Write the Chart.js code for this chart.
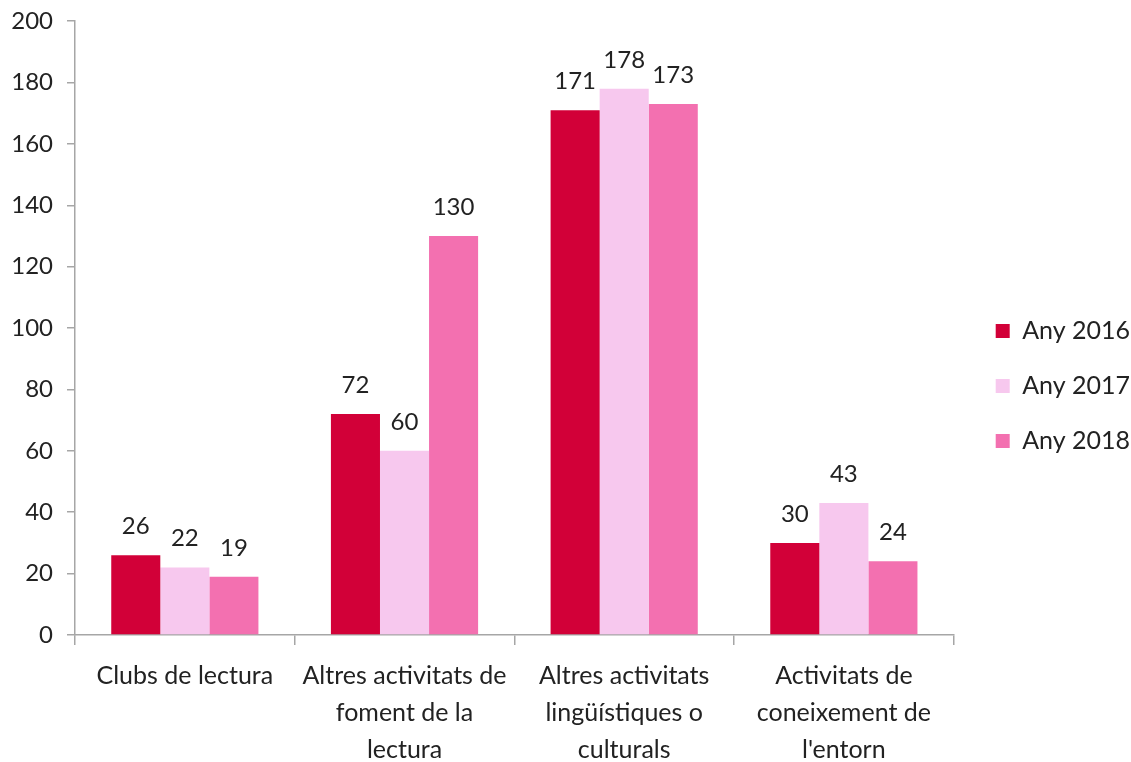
<!DOCTYPE html>
<html>
<head>
<meta charset="utf-8">
<script src="https://cdn.jsdelivr.net/npm/chart.js@4/dist/chart.umd.min.js"></script>
<style>
  html, body { margin: 0; padding: 0; background: #fff; }
  #wrap { width: 1131px; height: 762px; position: relative; }
</style>
</head>
<body>
<div id="wrap"><canvas id="c" width="1131" height="762"></canvas></div>
<script>
const categories = [
  ["Clubs de lectura"],
  ["Altres activitats de", "foment de la", "lectura"],
  ["Altres activitats", "lingüístiques o", "culturals"],
  ["Activitats de", "coneixement de", "l'entorn"]
];
const seriesNames = ["Any 2016", "Any 2017", "Any 2018"];
const values2016 = [26, 72, 171, 30];
const values2017 = [22, 60, 178, 43];
const values2018 = [19, 130, 173, 24];
const yMin = 0, yMax = 200, yStep = 20;

const colors = ["#D20038", "#F7C8EE", "#F370B0"];
const FONT = "Lato, 'Liberation Sans', sans-serif";
const FS = 24;
const FS_TXT = 25;
const AXIS = "#A6A6A6";

const valueLabels = {
  id: "valueLabels",
  afterDatasetsDraw(chart) {
    const ctx = chart.ctx;
    ctx.save();
    ctx.font = FS + "px " + FONT;
    ctx.fillStyle = "#222";
    ctx.textAlign = "center";
    ctx.textBaseline = "alphabetic";
    chart.data.datasets.forEach((ds, i) => {
      const meta = chart.getDatasetMeta(i);
      meta.data.forEach((bar, j) => {
        ctx.fillText(String(ds.data[j]), bar.x, bar.y - 21);
      });
    });
    ctx.restore();
  }
};

const legendShift = {
  id: "legendShift",
  afterLayout(chart) {
    const lg = chart.legend;
    if (lg) { lg.left += 12; lg.right += 12; }
  }
};

new Chart(document.getElementById("c"), {
  type: "bar",
  data: {
    labels: categories,
    datasets: [
      { label: seriesNames[0], data: values2016, backgroundColor: colors[0] },
      { label: seriesNames[1], data: values2017, backgroundColor: colors[1] },
      { label: seriesNames[2], data: values2018, backgroundColor: colors[2] }
    ]
  },
  options: {
    responsive: false,
    animation: false,
    devicePixelRatio: 1,
    layout: { padding: { top: 10, right: 3, bottom: 0, left: 0 } },
    datasets: { bar: { categoryPercentage: 0.67, barPercentage: 1.0, borderWidth: 0 } },
    plugins: {
      tooltip: { enabled: false },
      legend: {
        position: "right",
        align: "center",
        labels: {
          boxWidth: 14, boxHeight: 14, padding: 30,
          color: "#222",
          font: { family: FONT, size: FS_TXT }
        }
      }
    },
    scales: {
      x: {
        offset: true,
        grid: { offset: true, drawOnChartArea: false, drawTicks: true, tickLength: 10, color: AXIS, lineWidth: 1.5 },
        border: { color: AXIS, width: 1.5 },
        ticks: { color: "#222", font: { family: FONT, size: FS_TXT, lineHeight: 1.48 }, padding: 12, maxRotation: 0, autoSkip: false },
        afterFit(scale) { scale.height = 127; }
      },
      y: {
        min: yMin, max: yMax,
        grid: { drawOnChartArea: false, drawTicks: true, tickLength: 8, color: AXIS, lineWidth: 1.5 },
        border: { color: AXIS, width: 1.5 },
        ticks: { stepSize: yStep, color: "#222", font: { family: FONT, size: FS, lineHeight: 0.6 }, padding: 14 },
        afterFit(scale) { scale.width = 75; }
      }
    }
  },
  plugins: [valueLabels, legendShift]
});
</script>
</body>
</html>
